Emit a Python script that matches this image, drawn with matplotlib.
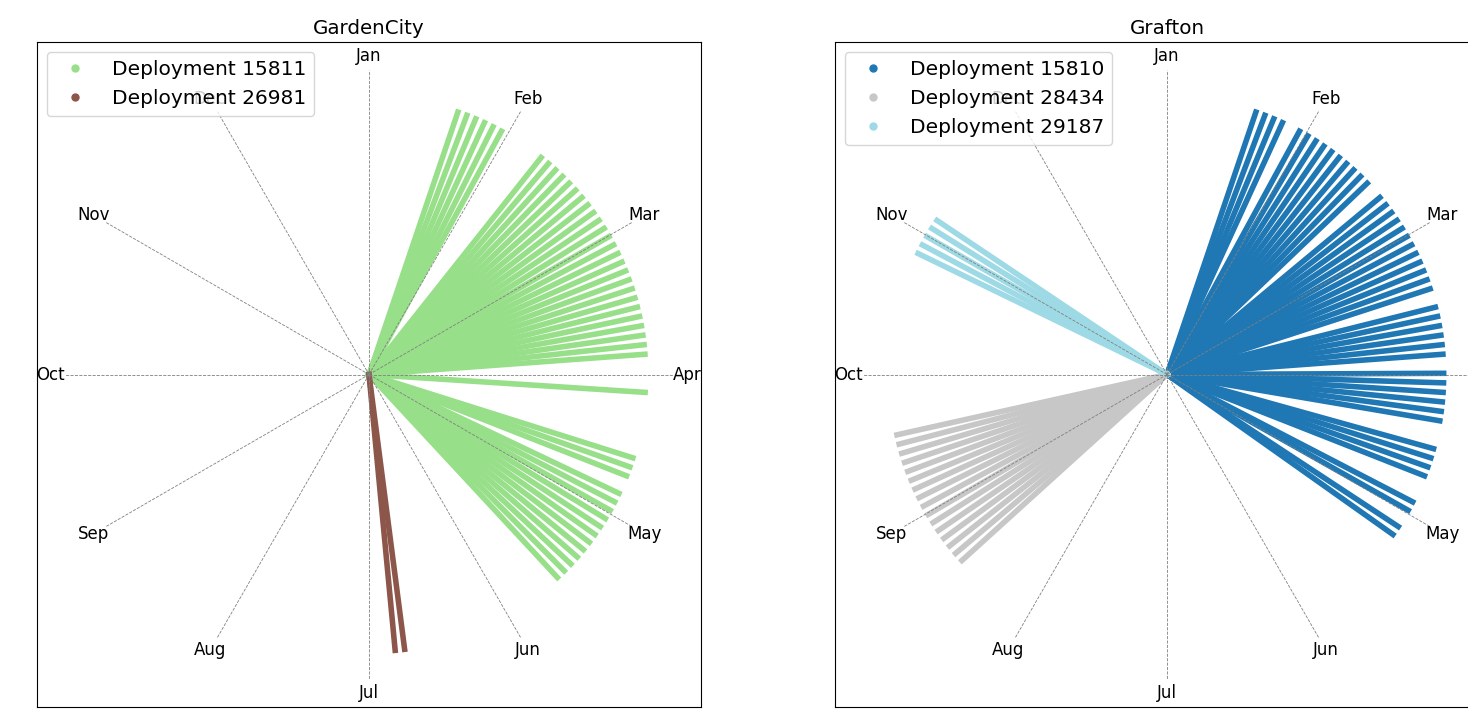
import numpy as np
import matplotlib
matplotlib.use('Agg')
import matplotlib.pyplot as plt
from matplotlib.lines import Line2D

months = ['Jan', 'Feb', 'Mar', 'Apr', 'May', 'Jun',
          'Jul', 'Aug', 'Sep', 'Oct', 'Nov', 'Dec']

# days since Jan 1 on which each deployment recorded a detection
gardencity_15811 = [19, 21, 23, 25, 27, 29,
                    39, 41, 43, 45, 47, 49, 51, 53, 55, 57, 59, 61, 63,
                    65, 67, 69, 71, 73, 75, 77, 79, 81, 83, 85, 87,
                    95,
                    109, 111, 113, 117, 119, 121, 123, 125, 127, 129,
                    131, 133, 135, 137, 139]
gardencity_26981 = [175, 177]

grafton_15810 = [19, 21, 23, 25,
                 29, 31, 33, 35, 37, 39, 41, 43, 45, 47,
                 51, 53, 55, 57, 59, 61, 63, 65, 67, 69, 71, 73,
                 77, 79, 81, 83, 85, 87,
                 91, 93, 95, 97, 99, 101,
                 107, 109, 111, 113,
                 119, 121, 125, 127]
grafton_28434 = [231, 233, 235, 237, 239, 241, 243, 245, 247, 249,
                 251, 253, 255, 257, 259, 261]
grafton_29187 = [300, 302, 304, 306, 308]

cmap = plt.get_cmap('tab20')

gardencity = [('Deployment 15811', gardencity_15811, cmap(5)),
              ('Deployment 26981', gardencity_26981, cmap(10))]
grafton = [('Deployment 15810', grafton_15810, cmap(0)),
           ('Deployment 28434', grafton_28434, cmap(15)),
           ('Deployment 29187', grafton_29187, cmap(19))]


def clock_plot(ax, title, deployments):
    """draw each detection day as a spoke on a year clock (Jan at the top)"""
    handles = []
    for label, days, color in deployments:
        for day in days:
            theta = 2 * np.pi * day / 365
            ax.plot([0, np.sin(theta)], [0, np.cos(theta)], color=color, lw=4)
        handles.append(Line2D([0], [0], marker='o', linestyle='none',
                              color=color, markersize=5, label=label))

    # month spokes and labels
    for i, month in enumerate(months):
        theta = 2 * np.pi * i / 12
        ax.plot([0, 1.1 * np.sin(theta)], [0, 1.1 * np.cos(theta)],
                linestyle='--', color='gray', lw=0.6)
        ax.text(1.15 * np.sin(theta), 1.15 * np.cos(theta), month,
                ha='center', va='center', fontsize=12)

    ax.set_xlim(-1.2, 1.2)
    ax.set_ylim(-1.2, 1.2)
    ax.set_xticks([])
    ax.set_yticks([])
    ax.set_title(title, fontsize=14.3)
    ax.legend(handles=handles, loc='upper left', fontsize=14.5)


fig = plt.figure(figsize=(14.68, 7.09), dpi=100)
ax1 = fig.add_axes([37 / 1468, 2 / 709, 664 / 1468, 665 / 709])
ax2 = fig.add_axes([835 / 1468, 2 / 709, 664 / 1468, 665 / 709])

clock_plot(ax1, 'GardenCity', gardencity)
clock_plot(ax2, 'Grafton', grafton)

fig.savefig('out.png', dpi=100)
